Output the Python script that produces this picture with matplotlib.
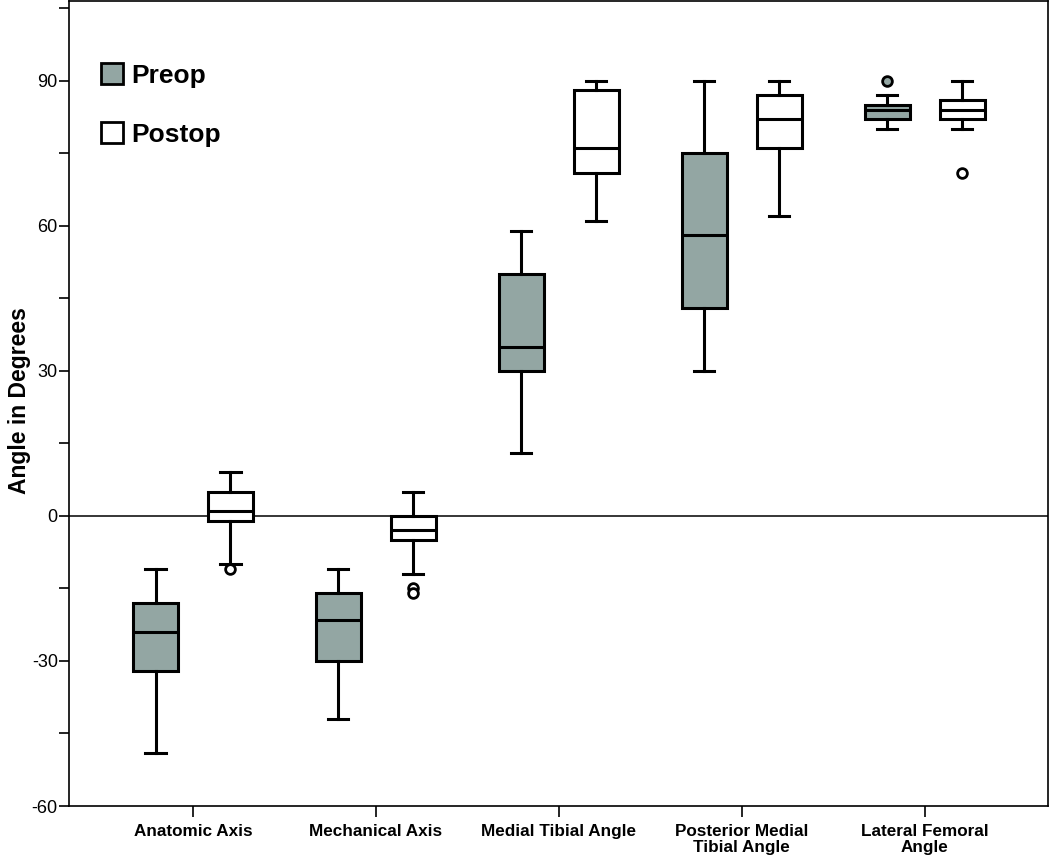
import matplotlib.pyplot as plt
from matplotlib.patches import Patch

plt.rcParams['font.family'] = ['Liberation Sans', 'DejaVu Sans']
plt.rcParams['axes.unicode_minus'] = False

# box statistics (degrees)
categories = ['Anatomic Axis', 'Mechanical Axis', 'Medial Tibial Angle',
              'Posterior Medial\nTibial Angle', 'Lateral Femoral\nAngle']

preop_low = [-49, -42, 13, 30, 80]
preop_q1 = [-32, -30, 30, 43, 82]
preop_med = [-24, -21.5, 35, 58, 84]
preop_q3 = [-18, -16, 50, 75, 85]
preop_high = [-11, -11, 59, 90, 87]
preop_fliers = [[], [], [], [], [90]]

postop_low = [-10, -12, 61, 62, 80]
postop_q1 = [-1, -5, 71, 76, 82]
postop_med = [1, -3, 76, 82, 84]
postop_q3 = [5, 0, 88, 87, 86]
postop_high = [9, 5, 90, 90, 90]
postop_fliers = [[-11], [-15, -16], [], [], [71]]

gray = '#93a6a3'


def make_stats(low, q1, med, q3, high, fliers):
    stats = []
    for i in range(len(low)):
        stats.append({'whislo': low[i], 'q1': q1[i], 'med': med[i], 'q3': q3[i],
                      'whishi': high[i], 'fliers': fliers[i]})
    return stats


fig = plt.figure(figsize=(10.5, 8.57), dpi=100)
ax = fig.add_axes([0.0657, 0.0595, 0.932, 0.9395])

centers = list(range(1, len(categories) + 1))
off = 0.205
lw = 2.2

for stats, pos, fc in [(make_stats(preop_low, preop_q1, preop_med, preop_q3, preop_high, preop_fliers),
                        [c - off for c in centers], gray),
                       (make_stats(postop_low, postop_q1, postop_med, postop_q3, postop_high, postop_fliers),
                        [c + off for c in centers], 'white')]:
    ax.bxp(stats, positions=pos, widths=0.246, capwidths=0.11, patch_artist=True,
           boxprops=dict(facecolor=fc, edgecolor='black', linewidth=lw),
           medianprops=dict(color='black', linewidth=lw),
           whiskerprops=dict(color='black', linewidth=lw),
           capprops=dict(color='black', linewidth=lw),
           flierprops=dict(marker='o', markersize=7, markerfacecolor=fc,
                           markeredgecolor='black', markeredgewidth=2),
           manage_ticks=False, zorder=3)

ax.axhline(0, color='black', linewidth=1.1, zorder=2)

ax.set_xlim(0.322, 5.672)
ax.set_ylim(-60, 106.5)
ax.set_yticks([-60, -30, 0, 30, 60, 90])
ax.set_yticks([-45, -15, 15, 45, 75, 105], minor=True)
ax.set_xticks(centers)
ax.set_xticklabels(categories, fontsize=12.3, fontweight='bold', linespacing=1.1)
ax.tick_params(axis='y', which='major', labelsize=13, length=7, width=1.2, pad=1)
ax.tick_params(axis='y', which='minor', length=7, width=1.2)
ax.tick_params(axis='x', length=8, width=1.2, pad=5)
for s in ax.spines.values():
    s.set_linewidth(1.2)

ax.set_ylabel('Angle in Degrees', fontsize=16.5, fontweight='bold')
ax.yaxis.set_label_coords(-0.039, 0.504)

handles = [Patch(facecolor=gray, edgecolor='black', linewidth=2),
           Patch(facecolor='white', edgecolor='black', linewidth=2)]
ax.legend(handles, ['Preop', 'Postop'], loc='upper left', bbox_to_anchor=(0.008, 0.952),
          frameon=False, prop={'size': 19, 'weight': 'bold'},
          handlelength=0.85, handleheight=0.85, handletextpad=0.3, labelspacing=1.3)

fig.savefig('out.png', dpi=100)
